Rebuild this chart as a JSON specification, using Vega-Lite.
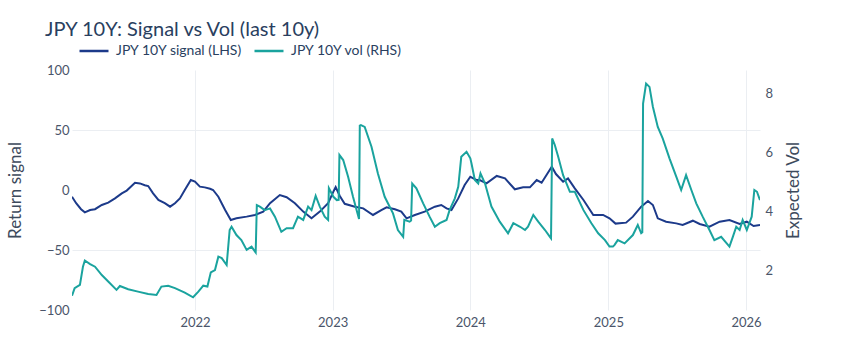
{
  "$schema": "https://vega.github.io/schema/vega-lite/v6.json",
  "width": 688,
  "height": 240,
  "autosize": {"type": "none"},
  "padding": {"left": 72, "top": 70, "right": 104, "bottom": 50},
  "background": "white",
  "config": {
    "view": {"stroke": null},
    "font": "Lato",
    "axis": {"labelFont": "Lato", "titleFont": "Lato", "labelFontSize": 13, "labelColor": "#4a556a", "titleColor": "#3d4a5c", "titleFontSize": 17, "titleFontWeight": "normal", "domain": false, "ticks": false}
  },
  "title": {
    "text": "JPY 10Y: Signal vs Vol (last 10y)",
    "anchor": "start",
    "frame": "group",
    "dx": -27,
    "offset": -5,
    "fontSize": 20,
    "fontWeight": "normal",
    "font": "Lato",
    "color": "#2a3f5f"
  },
  "datasets": {
    "signal": [
      {"d": "2021-02-09", "v": -5.6}, {"d": "2021-02-20", "v": -11}, {"d": "2021-03-05", "v": -16}, {"d": "2021-03-15", "v": -18.6},
      {"d": "2021-03-29", "v": -16.7}, {"d": "2021-04-11", "v": -16}, {"d": "2021-04-29", "v": -12.5}, {"d": "2021-05-16", "v": -10.5},
      {"d": "2021-06-03", "v": -7}, {"d": "2021-06-21", "v": -2.8}, {"d": "2021-07-04", "v": -0.5}, {"d": "2021-07-17", "v": 3.3},
      {"d": "2021-07-26", "v": 6}, {"d": "2021-08-08", "v": 5.5}, {"d": "2021-08-21", "v": 4}, {"d": "2021-08-30", "v": 3.3},
      {"d": "2021-09-12", "v": -2.8}, {"d": "2021-09-26", "v": -8.3}, {"d": "2021-10-13", "v": -11}, {"d": "2021-10-27", "v": -13.9},
      {"d": "2021-11-09", "v": -11}, {"d": "2021-11-22", "v": -7}, {"d": "2021-12-05", "v": 0}, {"d": "2021-12-21", "v": 8.3},
      {"d": "2022-01-01", "v": 7}, {"d": "2022-01-14", "v": 2.8}, {"d": "2022-01-27", "v": 2.2}, {"d": "2022-02-10", "v": 1},
      {"d": "2022-02-18", "v": 0}, {"d": "2022-03-04", "v": -5.6}, {"d": "2022-03-22", "v": -16.7}, {"d": "2022-04-06", "v": -25},
      {"d": "2022-04-21", "v": -23.6}, {"d": "2022-05-18", "v": -22.2}, {"d": "2022-06-09", "v": -20.8}, {"d": "2022-07-01", "v": -18},
      {"d": "2022-07-19", "v": -11}, {"d": "2022-08-14", "v": -4.2}, {"d": "2022-09-01", "v": -6}, {"d": "2022-09-23", "v": -11},
      {"d": "2022-10-15", "v": -18}, {"d": "2022-11-06", "v": -23.6}, {"d": "2022-11-28", "v": -18}, {"d": "2022-12-20", "v": -11},
      {"d": "2023-01-03", "v": -1.4}, {"d": "2023-01-09", "v": 2.5}, {"d": "2023-01-20", "v": -5}, {"d": "2023-02-02", "v": -11.5},
      {"d": "2023-03-01", "v": -13.9}, {"d": "2023-03-23", "v": -15.3}, {"d": "2023-04-18", "v": -20.8}, {"d": "2023-05-10", "v": -16.7},
      {"d": "2023-05-24", "v": -14.4}, {"d": "2023-06-15", "v": -16}, {"d": "2023-07-02", "v": -18}, {"d": "2023-07-16", "v": -23.6},
      {"d": "2023-08-07", "v": -20.8}, {"d": "2023-09-02", "v": -18}, {"d": "2023-09-29", "v": -13.9}, {"d": "2023-10-16", "v": -12.5},
      {"d": "2023-10-30", "v": -15.3}, {"d": "2023-11-12", "v": -16.7}, {"d": "2023-11-30", "v": -7}, {"d": "2023-12-17", "v": 4.2},
      {"d": "2024-01-01", "v": 11}, {"d": "2024-01-18", "v": 8.3}, {"d": "2024-01-26", "v": 8.3}, {"d": "2024-02-13", "v": 5.6},
      {"d": "2024-03-11", "v": 11.7}, {"d": "2024-04-02", "v": 9.7}, {"d": "2024-04-28", "v": 0.6}, {"d": "2024-05-20", "v": 2.2},
      {"d": "2024-06-07", "v": 2.2}, {"d": "2024-06-25", "v": 8.3}, {"d": "2024-07-08", "v": 6.1}, {"d": "2024-07-21", "v": 12.5},
      {"d": "2024-08-04", "v": 19.4}, {"d": "2024-08-15", "v": 13.3}, {"d": "2024-09-03", "v": 6.9}, {"d": "2024-09-16", "v": 9.7},
      {"d": "2024-10-04", "v": 1.4}, {"d": "2024-10-27", "v": -8.3}, {"d": "2024-11-22", "v": -20.8}, {"d": "2024-12-18", "v": -20.8},
      {"d": "2025-01-04", "v": -23.6}, {"d": "2025-01-20", "v": -28}, {"d": "2025-02-17", "v": -27.2}, {"d": "2025-03-07", "v": -22.2},
      {"d": "2025-03-29", "v": -13.9}, {"d": "2025-04-16", "v": -9.2}, {"d": "2025-04-29", "v": -12.5}, {"d": "2025-05-12", "v": -23.6},
      {"d": "2025-06-03", "v": -26.4}, {"d": "2025-06-30", "v": -27.8}, {"d": "2025-07-17", "v": -29.2}, {"d": "2025-08-13", "v": -25.6},
      {"d": "2025-08-31", "v": -28.3}, {"d": "2025-09-26", "v": -30.6}, {"d": "2025-10-23", "v": -26.4}, {"d": "2025-11-18", "v": -25},
      {"d": "2025-12-15", "v": -28.3}, {"d": "2026-01-03", "v": -26.4}, {"d": "2026-01-21", "v": -30}, {"d": "2026-02-07", "v": -29.2}
    ],
    "vol": [
      {"d": "2021-02-09", "v": 1.16}, {"d": "2021-02-16", "v": 1.42}, {"d": "2021-03-02", "v": 1.53}, {"d": "2021-03-10", "v": 2.14},
      {"d": "2021-03-15", "v": 2.35}, {"d": "2021-03-29", "v": 2.23}, {"d": "2021-04-11", "v": 2.14}, {"d": "2021-04-29", "v": 1.86},
      {"d": "2021-05-16", "v": 1.64}, {"d": "2021-06-07", "v": 1.36}, {"d": "2021-06-16", "v": 1.49}, {"d": "2021-07-08", "v": 1.38},
      {"d": "2021-08-03", "v": 1.30}, {"d": "2021-08-30", "v": 1.22}, {"d": "2021-09-21", "v": 1.19}, {"d": "2021-10-04", "v": 1.47},
      {"d": "2021-10-22", "v": 1.50}, {"d": "2021-11-09", "v": 1.42}, {"d": "2021-12-05", "v": 1.27}, {"d": "2021-12-27", "v": 1.11},
      {"d": "2022-01-10", "v": 1.30}, {"d": "2022-01-23", "v": 1.50}, {"d": "2022-02-03", "v": 1.47}, {"d": "2022-02-12", "v": 1.95},
      {"d": "2022-02-23", "v": 2.03}, {"d": "2022-03-04", "v": 2.48}, {"d": "2022-03-13", "v": 2.43}, {"d": "2022-03-26", "v": 2.20},
      {"d": "2022-04-03", "v": 3.38}, {"d": "2022-04-08", "v": 3.49}, {"d": "2022-04-21", "v": 3.21}, {"d": "2022-05-04", "v": 3.04},
      {"d": "2022-05-18", "v": 2.71}, {"d": "2022-05-31", "v": 2.82}, {"d": "2022-06-11", "v": 2.62}, {"d": "2022-06-14", "v": 4.22},
      {"d": "2022-06-22", "v": 4.17}, {"d": "2022-07-05", "v": 4.05}, {"d": "2022-07-19", "v": 4.11}, {"d": "2022-08-01", "v": 3.83},
      {"d": "2022-08-18", "v": 3.32}, {"d": "2022-09-01", "v": 3.44}, {"d": "2022-09-18", "v": 3.44}, {"d": "2022-10-01", "v": 3.83},
      {"d": "2022-10-15", "v": 3.72}, {"d": "2022-10-28", "v": 4.17}, {"d": "2022-11-06", "v": 4.05}, {"d": "2022-11-17", "v": 4.53},
      {"d": "2022-11-28", "v": 4.17}, {"d": "2022-12-11", "v": 3.83}, {"d": "2022-12-20", "v": 3.72}, {"d": "2022-12-22", "v": 4.79},
      {"d": "2023-01-03", "v": 4.5}, {"d": "2023-01-12", "v": 4.39}, {"d": "2023-01-17", "v": 4.4}, {"d": "2023-01-19", "v": 5.91},
      {"d": "2023-01-29", "v": 5.74}, {"d": "2023-02-11", "v": 5.18}, {"d": "2023-02-24", "v": 4.5}, {"d": "2023-03-08", "v": 3.94},
      {"d": "2023-03-12", "v": 3.75}, {"d": "2023-03-14", "v": 6.9}, {"d": "2023-03-17", "v": 6.92}, {"d": "2023-03-27", "v": 6.86},
      {"d": "2023-04-14", "v": 6.19}, {"d": "2023-05-01", "v": 5.29}, {"d": "2023-05-19", "v": 4.5}, {"d": "2023-06-10", "v": 3.94},
      {"d": "2023-06-23", "v": 3.38}, {"d": "2023-07-07", "v": 3.15}, {"d": "2023-07-10", "v": 3.72}, {"d": "2023-07-24", "v": 3.66},
      {"d": "2023-07-28", "v": 3.7}, {"d": "2023-07-31", "v": 4.95}, {"d": "2023-08-11", "v": 4.79}, {"d": "2023-08-29", "v": 4.28},
      {"d": "2023-09-15", "v": 3.83}, {"d": "2023-09-29", "v": 3.49}, {"d": "2023-10-12", "v": 3.61}, {"d": "2023-10-30", "v": 3.72},
      {"d": "2023-11-07", "v": 4.05}, {"d": "2023-11-21", "v": 4.45}, {"d": "2023-11-30", "v": 4.84}, {"d": "2023-12-08", "v": 5.85},
      {"d": "2023-12-22", "v": 6.02}, {"d": "2024-01-01", "v": 5.8}, {"d": "2024-01-04", "v": 5.63}, {"d": "2024-01-13", "v": 5.07},
      {"d": "2024-01-22", "v": 4.95}, {"d": "2024-01-28", "v": 5.29}, {"d": "2024-02-09", "v": 4.95}, {"d": "2024-02-26", "v": 4.17},
      {"d": "2024-03-19", "v": 3.66}, {"d": "2024-04-10", "v": 3.27}, {"d": "2024-04-24", "v": 3.61}, {"d": "2024-05-12", "v": 3.49},
      {"d": "2024-05-25", "v": 3.38}, {"d": "2024-06-02", "v": 3.49}, {"d": "2024-06-16", "v": 3.89}, {"d": "2024-06-29", "v": 3.66},
      {"d": "2024-07-17", "v": 3.38}, {"d": "2024-07-30", "v": 3.15}, {"d": "2024-08-02", "v": 3.1}, {"d": "2024-08-05", "v": 6.47},
      {"d": "2024-08-12", "v": 6.25}, {"d": "2024-08-21", "v": 5.85}, {"d": "2024-09-03", "v": 5.23}, {"d": "2024-09-21", "v": 4.67},
      {"d": "2024-10-04", "v": 4.67}, {"d": "2024-10-27", "v": 4.05}, {"d": "2024-11-17", "v": 3.61}, {"d": "2024-12-05", "v": 3.27},
      {"d": "2024-12-23", "v": 3.04}, {"d": "2025-01-04", "v": 2.82}, {"d": "2025-01-13", "v": 2.82}, {"d": "2025-01-17", "v": 2.87},
      {"d": "2025-01-26", "v": 3.04}, {"d": "2025-02-13", "v": 2.93}, {"d": "2025-03-07", "v": 3.21}, {"d": "2025-03-20", "v": 3.55},
      {"d": "2025-03-29", "v": 3.27}, {"d": "2025-04-01", "v": 3.3}, {"d": "2025-04-03", "v": 7.65}, {"d": "2025-04-11", "v": 8.32},
      {"d": "2025-04-20", "v": 8.21}, {"d": "2025-04-29", "v": 7.54}, {"d": "2025-05-12", "v": 6.86}, {"d": "2025-05-25", "v": 6.47},
      {"d": "2025-06-12", "v": 5.80}, {"d": "2025-06-30", "v": 5.18}, {"d": "2025-07-13", "v": 4.73}, {"d": "2025-07-26", "v": 5.23},
      {"d": "2025-08-09", "v": 4.73}, {"d": "2025-08-22", "v": 4.28}, {"d": "2025-09-08", "v": 3.83}, {"d": "2025-09-26", "v": 3.38},
      {"d": "2025-10-09", "v": 3.04}, {"d": "2025-10-27", "v": 3.15}, {"d": "2025-11-18", "v": 2.82}, {"d": "2025-11-27", "v": 3.15},
      {"d": "2025-12-06", "v": 3.49}, {"d": "2025-12-15", "v": 3.38}, {"d": "2025-12-23", "v": 3.72}, {"d": "2026-01-03", "v": 3.38},
      {"d": "2026-01-16", "v": 3.83}, {"d": "2026-01-23", "v": 4.73}, {"d": "2026-01-30", "v": 4.67}, {"d": "2026-02-07", "v": 4.39}
    ]
  },
  "layer": [
    {
      "data": {"name": "signal"},
      "mark": {"type": "line", "strokeWidth": 2, "clip": true},
      "encoding": {
        "x": {
          "field": "d", "type": "temporal",
          "scale": {"type": "utc", "domain": [{"year": 2021, "month": 2, "date": 9, "utc": true}, {"year": 2026, "month": 2, "date": 7, "utc": true}]},
          "axis": {
            "title": null, "format": "%Y", "labelPadding": 6,
            "values": [{"year": 2022, "month": 1, "date": 1, "utc": true}, {"year": 2023, "month": 1, "date": 1, "utc": true}, {"year": 2024, "month": 1, "date": 1, "utc": true}, {"year": 2025, "month": 1, "date": 1, "utc": true}, {"year": 2026, "month": 1, "date": 1, "utc": true}],
            "grid": true, "gridColor": "#ebeef2", "gridWidth": 1
          }
        },
        "y": {
          "field": "v", "type": "quantitative",
          "scale": {"domain": [-100, 100], "nice": false},
          "axis": {
            "title": "Return signal", "orient": "left", "values": [-100, -50, 0, 50, 100],
            "labelPadding": 3, "titlePadding": 14,
            "grid": true, "gridColor": "#ebeef2",
            "gridOpacity": {"condition": {"test": "abs(datum.value) == 50", "value": 1}, "value": 0}
          }
        },
        "color": {
          "datum": "JPY 10Y signal (LHS)", "type": "nominal",
          "scale": {"domain": ["JPY 10Y signal (LHS)", "JPY 10Y vol (RHS)"], "range": ["#1c3a8a", "#1aa39e"]},
          "legend": {
            "title": null, "orient": "none", "direction": "horizontal", "legendX": 6, "legendY": -35,
            "symbolType": "stroke", "symbolSize": 841, "symbolStrokeWidth": 2.5,
            "labelFont": "Lato", "labelFontSize": 14, "labelColor": "#2a3f5f", "labelOffset": 6, "columnPadding": 6, "padding": 0
          }
        }
      }
    },
    {
      "data": {"name": "vol"},
      "mark": {"type": "line", "strokeWidth": 2, "clip": true},
      "encoding": {
        "x": {"field": "d", "type": "temporal"},
        "y": {
          "field": "v", "type": "quantitative",
          "scale": {"domain": [0.68, 8.78], "nice": false, "zero": false},
          "axis": {"title": "Expected Vol", "titleAngle": 270, "orient": "right", "values": [2, 4, 6, 8], "grid": false, "labelPadding": 5, "titlePadding": 30}
        },
        "color": {"datum": "JPY 10Y vol (RHS)", "type": "nominal"}
      }
    }
  ],
  "resolve": {"scale": {"y": "independent"}}
}
